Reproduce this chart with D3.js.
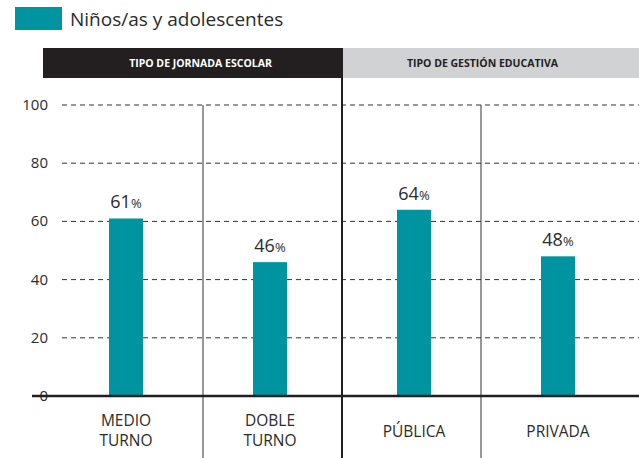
<!DOCTYPE html>
<html>
<head>
<meta charset="utf-8">
<script src="https://cdn.jsdelivr.net/npm/d3@7"></script>
<style>
  body { margin: 0; background: #fff; }
  text { font-family: "Open Sans", "Noto Sans", sans-serif; fill: #2b2b2b; }
</style>
</head>
<body>
<div id="chart"></div>
<script>
var categories = [["MEDIO", "TURNO"], ["DOBLE", "TURNO"], ["PÚBLICA"], ["PRIVADA"]];
var values = [61, 46, 64, 48];
var yTicks = [0, 20, 40, 60, 80, 100];
var groups = ["TIPO DE JORNADA ESCOLAR", "TIPO DE GESTIÓN EDUCATIVA"];
var seriesName = "Niños/as y adolescentes";

var width = 639, height = 458;
var teal = "#0093a0";

var svg = d3.select("#chart").append("svg")
    .attr("width", width).attr("height", height);

// bar positions
var x = d3.scaleBand()
    .domain(d3.range(categories.length))
    .range([54, 630]);

// column regions (for the separator lines)
var region = d3.scaleBand()
    .domain(d3.range(categories.length))
    .range([64, 620]);

var y = d3.scaleLinear().domain([0, 100]).range([396, 105]);

/* legend */
svg.append("rect").attr("x", 15).attr("y", 7).attr("width", 47).attr("height", 23).attr("fill", teal);
svg.append("text").attr("x", 70).attr("y", 26).style("font-size", "19px").text(seriesName);

/* group headers */
var sep = region(2);
svg.append("rect").attr("x", 43).attr("y", 48).attr("width", sep - 43).attr("height", 30).attr("fill", "#231f20");
svg.append("rect").attr("x", sep).attr("y", 48).attr("width", width - sep).attr("height", 30).attr("fill", "#d1d2d4");
svg.append("text").attr("x", (43 + sep) / 2 + 8).attr("y", 67).attr("text-anchor", "middle")
    .style("font-size", "10.5px").style("font-weight", "bold").style("fill", "#fff").text(groups[0]);
svg.append("text").attr("x", (sep + width) / 2 - 8).attr("y", 67).attr("text-anchor", "middle")
    .style("font-size", "10.5px").style("font-weight", "bold").style("fill", "#231f20").text(groups[1]);

/* gridlines + y labels */
var grid = svg.append("g");
yTicks.forEach(function(t) {
    if (t > 0) {
        grid.append("line").attr("x1", 62).attr("x2", width)
            .attr("y1", y(t)).attr("y2", y(t))
            .attr("stroke", "#333").attr("stroke-width", 1).attr("stroke-dasharray", "5,4");
    }
    grid.append("text").attr("x", 48).attr("y", y(t) + 5).attr("text-anchor", "end")
        .style("font-size", "15px").text(t);
});

/* thin separators */
[1, 3].forEach(function(i) {
    svg.append("line").attr("x1", region(i)).attr("x2", region(i)).attr("y1", y(100)).attr("y2", height)
        .attr("stroke", "#333").attr("stroke-width", 1);
});
/* thick separator */
svg.append("line").attr("x1", sep).attr("x2", sep).attr("y1", 48).attr("y2", height)
    .attr("stroke", "#231f20").attr("stroke-width", 2);

/* bars */
var bw = 34;
svg.selectAll(".bar").data(values).enter().append("rect")
    .attr("class", "bar")
    .attr("x", function(d, i) { return x(i) + x.bandwidth() / 2 - bw / 2; })
    .attr("y", function(d) { return y(d); })
    .attr("width", bw)
    .attr("height", function(d) { return y(0) - y(d); })
    .attr("fill", teal);

/* value labels */
var lab = svg.selectAll(".val").data(values).enter().append("text")
    .attr("class", "val")
    .attr("x", function(d, i) { return x(i) + x.bandwidth() / 2; })
    .attr("y", function(d) { return y(d) - 10; })
    .attr("text-anchor", "middle")
    .style("font-size", "18px");
lab.append("tspan").text(function(d) { return d; });
lab.append("tspan").style("font-size", "13px").text("%");

/* zero line */
svg.append("line").attr("x1", 32).attr("x2", width).attr("y1", y(0)).attr("y2", y(0))
    .attr("stroke", "#231f20").attr("stroke-width", 2.5);

/* category labels, one text per line */
categories.forEach(function(d, i) {
    var cx = x(i) + x.bandwidth() / 2;
    var y0 = d.length > 1 ? 426 : 437;
    d.forEach(function(line, k) {
        svg.append("text").attr("class", "cat")
            .attr("x", cx).attr("y", y0 + k * 20)
            .attr("text-anchor", "middle")
            .style("font-size", "15.5px")
            .text(line);
    });
});
</script>
</body>
</html>
